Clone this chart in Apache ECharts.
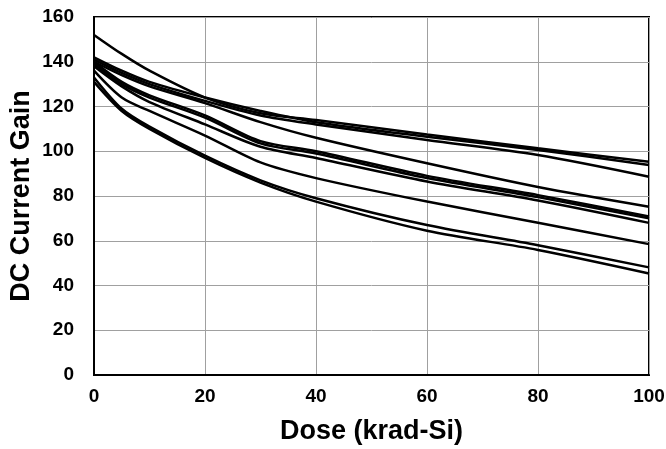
<!DOCTYPE html>
<html><head><meta charset="utf-8">
<script src="https://cdn.jsdelivr.net/npm/echarts@6/dist/echarts.min.js"></script>
<style>html,body{margin:0;padding:0;background:#fff}#c{width:666px;height:449px}</style>
</head><body><div id="c"></div>
<script>
const doses = [0, 5, 10, 20, 30, 40, 60, 80, 100];
const gainA1 = [152, 143.5, 136, 124, 117, 114, 107.5, 101.3, 95.3];
const gainA2 = [142, 136, 131, 124, 118, 113, 106.5, 100.6, 93.9];
const gainA3 = [141, 135, 130, 122.5, 116, 112, 105, 98.3, 88.6];
const gainB  = [140, 134, 129, 121.5, 113, 106, 94.6, 84, 75.2];
const gainC1 = [140, 131, 125, 116, 104.5, 100, 89, 80.4, 70.8];
const gainC2 = [139, 130, 124, 115, 103.5, 99, 88, 79.5, 70];
const gainC3 = [138, 129, 122, 112, 102, 97, 86.5, 78, 68];
const gainD  = [136, 124, 118, 107, 95, 88, 77.5, 68, 58.5];
const gainE1 = [133, 119, 111, 98, 87, 79, 67, 58, 48.1];
const gainE2 = [131, 118, 110, 97, 86, 77.5, 64.5, 55.9, 45.4];
const allSeries = [gainA1, gainA2, gainA3, gainB, gainC1, gainC2, gainC3, gainD, gainE1, gainE2];

const font = '"Liberation Sans", Arial, sans-serif';
const chart = echarts.init(document.getElementById('c'), null, {renderer: 'canvas'});
chart.setOption({
  animation: false,
  grid: {left: 94, right: 17, top: 17, bottom: 74, containLabel: false, outerBoundsMode: 'none',
         show: true, borderColor: '#000', borderWidth: 2, backgroundColor: 'transparent'},
  xAxis: {
    type: 'value', min: 0, max: 100, interval: 20,
    name: 'Dose (krad-Si)', nameLocation: 'middle', nameGap: 43,
    nameTextStyle: {fontFamily: font, fontWeight: 'bold', fontSize: 27, color: '#000'},
    axisLine: {show: true, lineStyle: {color: '#000', width: 2}},
    axisTick: {show: false},
    axisLabel: {margin: 12, fontFamily: font, fontWeight: 'bold', fontSize: 19, color: '#000'},
    splitLine: {show: true, lineStyle: {color: '#a0a0a0', width: 1}}
  },
  yAxis: {
    type: 'value', min: 0, max: 160, interval: 20,
    name: 'DC Current Gain', nameLocation: 'middle', nameGap: 59, nameMoveOverlap: false,
    nameTextStyle: {fontFamily: font, fontWeight: 'bold', fontSize: 27, color: '#000'},
    axisLine: {show: true, lineStyle: {color: '#000', width: 2}},
    axisTick: {show: false},
    axisLabel: {margin: 20, fontFamily: font, fontWeight: 'bold', fontSize: 19, color: '#000'},
    splitLine: {show: true, lineStyle: {color: '#a0a0a0', width: 1}}
  },
  series: allSeries.map(vals => ({
    type: 'line', smooth: 0.3, showSymbol: false,
    lineStyle: {color: '#000', width: 2.5},
    data: doses.map((d, i) => [d, vals[i]])
  }))
});
</script></body></html>
